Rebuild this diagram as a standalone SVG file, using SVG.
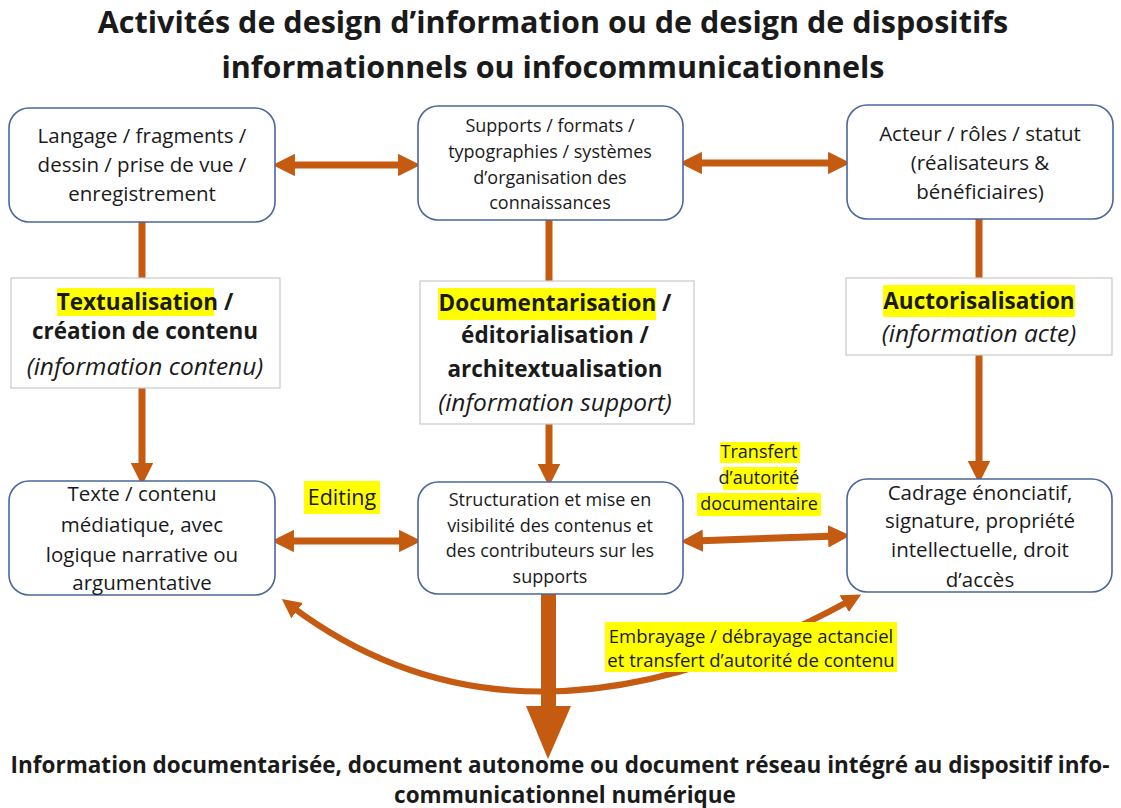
<svg xmlns="http://www.w3.org/2000/svg" width="1121" height="808" viewBox="0 0 1121 808">
<defs>
<style>
text{font-family:"Open Sans","Liberation Sans",sans-serif;fill:#1a1a1a;text-anchor:middle}
.node{fill:#fff;stroke:#4a679b;stroke-width:1.6}
.lbl{fill:#fff;stroke:#c9c9c9;stroke-width:1.2}
.t19{font-size:20.5px}
.t16{font-size:18px}
.b22{font-size:22.5px;font-weight:bold}
.i21{font-size:24.5px;font-style:italic}
.hl{fill:#ffff00}
.conn{stroke:#c55a11;stroke-width:7;fill:none}
.title{font-size:30.5px;font-weight:bold}
.bottom{font-size:22.5px;font-weight:bold}
.lab{font-size:18px}
</style>
<marker id="ah" viewBox="0 0 10 10" refX="4" refY="5" markerWidth="3.2" markerHeight="3.2" orient="auto-start-reverse">
<path d="M0,0 L10,5 L0,10 z" fill="#c55a11"/>
</marker>
</defs>
<rect width="1121" height="808" fill="#fff"/>

<g id="title">
<text class="title" x="553" y="33">Activités de design d’information ou de design de dispositifs</text>
<text class="title" x="553" y="78">informationnels ou infocommunicationnels</text>
</g>

<g id="connectors">
<line class="conn" x1="286" y1="165" x2="407" y2="165" marker-start="url(#ah)" marker-end="url(#ah)"/>
<line class="conn" x1="693" y1="163" x2="837" y2="163" marker-start="url(#ah)" marker-end="url(#ah)"/>
<line class="conn" x1="142" y1="222" x2="142" y2="278"/>
<line class="conn" x1="142" y1="388" x2="142" y2="472" marker-end="url(#ah)"/>
<line class="conn" x1="549" y1="220" x2="549" y2="281"/>
<line class="conn" x1="549" y1="424" x2="549" y2="473" marker-end="url(#ah)"/>
<line class="conn" x1="979" y1="219" x2="979" y2="278"/>
<line class="conn" x1="979" y1="355" x2="979" y2="470" marker-end="url(#ah)"/>
<line class="conn" x1="285" y1="541" x2="408" y2="541" marker-start="url(#ah)" marker-end="url(#ah)"/>
<line class="conn" x1="694" y1="541" x2="837" y2="536" marker-start="url(#ah)" marker-end="url(#ah)"/>
<path class="conn" style="stroke-width:6" d="M 291,606 Q 522,780 851,600" marker-start="url(#ah)" marker-end="url(#ah)"/>
<rect x="541" y="594" width="15" height="114" fill="#c55a11"/>
<polygon points="526,706 571,706 548,759" fill="#c55a11"/>
</g>

<g id="n-langage">
<rect class="node" x="9" y="108" width="266" height="114" rx="20"/>
<text class="t19" x="142" y="143">Langage / fragments /</text>
<text class="t19" x="142" y="172">dessin / prise de vue /</text>
<text class="t19" x="142" y="201">enregistrement</text>
</g>

<g id="n-supports">
<rect class="node" x="418" y="106" width="265" height="114" rx="20"/>
<text class="t16" x="550" y="132">Supports / formats /</text>
<text class="t16" x="550" y="158">typographies / systèmes</text>
<text class="t16" x="550" y="184">d’organisation des</text>
<text class="t16" x="550" y="209">connaissances</text>
</g>

<g id="n-acteur">
<rect class="node" x="847" y="105" width="266" height="114" rx="20"/>
<text class="t19" x="980" y="141">Acteur / rôles / statut</text>
<text class="t19" x="980" y="170">(réalisateurs &amp;</text>
<text class="t19" x="980" y="199">bénéficiaires)</text>
</g>

<g id="n-textualisation">
<rect class="lbl" x="11" y="278" width="269" height="110"/>
<rect class="hl" x="57" y="288" width="157" height="28"/>
<text class="b22" x="145" y="310">Textualisation /</text>
<text class="b22" x="145" y="339">création de contenu</text>
<text class="i21" x="145" y="375">(information contenu)</text>
</g>

<g id="n-documentarisation">
<rect class="lbl" x="420" y="281" width="274" height="143"/>
<rect class="hl" x="438" y="288" width="218" height="32"/>
<text class="b22" x="555" y="311">Documentarisation /</text>
<text class="b22" x="555" y="343">éditorialisation /</text>
<text class="b22" x="555" y="377">architextualisation</text>
<text class="i21" x="555" y="411">(information support)</text>
</g>

<g id="n-auctorisalisation">
<rect class="lbl" x="846" y="278" width="266" height="77"/>
<rect class="hl" x="883" y="285" width="192" height="32"/>
<text class="b22" x="979" y="309">Auctorisalisation</text>
<text class="i21" x="979" y="342">(information acte)</text>
</g>

<g id="n-texte">
<rect class="node" x="9" y="481" width="266" height="114" rx="20"/>
<text class="t19" x="142" y="501">Texte / contenu</text>
<text class="t19" x="142" y="532">médiatique, avec</text>
<text class="t19" x="142" y="562">logique narrative ou</text>
<text class="t19" x="142" y="590">argumentative</text>
</g>

<g id="n-structuration">
<rect class="node" x="418" y="482" width="265" height="112" rx="20"/>
<text class="t16" x="550" y="506">Structuration et mise en</text>
<text class="t16" x="550" y="532">visibilité des contenus et</text>
<text class="t16" x="550" y="557">des contributeurs sur les</text>
<text class="t16" x="550" y="583">supports</text>
</g>

<g id="n-cadrage">
<rect class="node" x="847" y="479" width="265" height="113" rx="20"/>
<text class="t19" x="980" y="500">Cadrage énonciatif,</text>
<text class="t19" x="980" y="528">signature, propriété</text>
<text class="t19" x="980" y="557">intellectuelle, droit</text>
<text class="t19" x="980" y="587">d’accès</text>
</g>

<g id="l-editing">
<rect class="hl" x="304" y="481" width="76" height="33"/>
<text x="342" y="505" style="font-size:21.5px">Editing</text>
</g>

<g id="l-transfert">
<rect class="hl" x="720" y="442" width="80" height="21"/>
<rect class="hl" x="723" y="467" width="74" height="23"/>
<rect class="hl" x="697" y="493" width="124" height="23"/>
<text class="lab" x="759" y="458">Transfert</text>
<text class="lab" x="759" y="484">d’autorité</text>
<text class="lab" x="759" y="510">documentaire</text>
</g>

<g id="l-embrayage">
<rect class="hl" x="605" y="622" width="292" height="50"/>
<text x="751" y="643" style="font-size:18.5px">Embrayage / débrayage actanciel</text>
<text x="751" y="667" style="font-size:18.5px">et transfert d’autorité de contenu</text>
</g>

<g id="n-result">
<text class="bottom" x="560" y="773">Information documentarisée, document autonome ou document réseau intégré au dispositif info-</text>
<text class="bottom" x="565" y="803">communicationnel numérique</text>
</g>
</svg>
